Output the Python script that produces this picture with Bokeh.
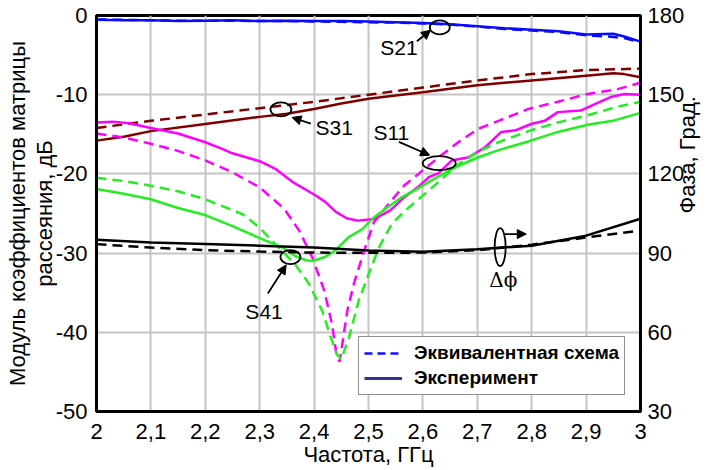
import math
from bokeh.plotting import figure
from bokeh.models import (Range1d, LinearAxis, Label, Arrow, NormalHead, Legend,
                          LegendItem, FixedTicker, CustomJSTickFormatter)
from bokeh.embed import file_html
from bokeh.resources import INLINE

# ---------------- data ----------------
x_ticks = [2.0, 2.1, 2.2, 2.3, 2.4, 2.5, 2.6, 2.7, 2.8, 2.9, 3.0]
db_ticks = [-50, -40, -30, -20, -10, 0]
phase_ticks = [30, 60, 90, 120, 150, 180]

# S21 (blue)
s21_f = [2.0, 2.05, 2.1, 2.15, 2.2, 2.25, 2.3, 2.35, 2.4, 2.45, 2.5, 2.55, 2.6, 2.65,
         2.7, 2.75, 2.8, 2.85, 2.9, 2.95, 2.97, 3.0]
s21_exp = [-0.55, -0.6, -0.6, -0.7, -0.65, -0.6, -0.7, -0.65, -0.7, -0.7, -0.75, -0.85,
           -0.95, -1.1, -1.35, -1.6, -1.8, -2.0, -2.4, -2.3, -2.65, -3.3]
s21_mod = [-0.5, -0.55, -0.6, -0.65, -0.65, -0.65, -0.7, -0.7, -0.75, -0.8, -0.85, -0.9,
           -1.0, -1.15, -1.4, -1.7, -1.9, -2.1, -2.5, -2.7, -2.85, -3.4]

# S31 (brown)
s31_exp_f = [2.0, 2.05, 2.1, 2.2, 2.3, 2.35, 2.4, 2.45, 2.5, 2.6, 2.7, 2.8, 2.9, 2.95, 2.97, 3.0]
s31_exp = [-15.8, -15.3, -14.6, -13.7, -12.8, -12.4, -11.8, -11.1, -10.5, -9.7, -8.8, -8.2,
           -7.6, -7.3, -7.4, -7.8]
s31_mod_f = [2.0, 2.1, 2.2, 2.3, 2.4, 2.5, 2.6, 2.7, 2.8, 2.9, 3.0]
s31_mod = [-14.2, -13.3, -12.5, -11.7, -10.9, -10.0, -9.1, -8.2, -7.4, -6.9, -6.7]

# S11 (magenta)
s11_exp_f = [2.0, 2.03, 2.06, 2.1, 2.15, 2.2, 2.23, 2.25, 2.3, 2.33, 2.36, 2.4, 2.42, 2.44,
             2.46, 2.48, 2.51, 2.54, 2.565, 2.592, 2.611, 2.629, 2.653, 2.684, 2.715, 2.744,
             2.77, 2.799, 2.824, 2.848, 2.89, 2.909, 2.945, 2.971, 3.0]
s11_exp = [-13.5, -13.4, -13.6, -14.2, -14.9, -16.0, -16.8, -17.4, -18.4, -19.4, -21.0, -22.6,
           -23.5, -24.8, -25.6, -25.9, -25.7, -24.6, -23.0, -21.6, -20.4, -19.9, -18.3, -17.9,
           -16.6, -14.7, -14.5, -13.7, -13.3, -12.2, -12.0, -11.4, -10.3, -9.9, -10.0]
s11_mod_f = [2.0, 2.05, 2.1, 2.15, 2.2, 2.25, 2.3, 2.345, 2.373, 2.397, 2.419, 2.433, 2.442,
             2.447, 2.461, 2.473, 2.492, 2.51, 2.537, 2.565, 2.592, 2.629, 2.665, 2.702,
             2.739, 2.794, 2.848, 2.903, 2.958, 3.0]
s11_mod = [-14.9, -15.4, -16.2, -17.1, -18.3, -19.8, -21.7, -24.4, -27.2, -30.6, -34.8, -39.0,
           -43.2, -43.7, -37.3, -33.9, -29.7, -26.1, -23.8, -21.5, -20.0, -17.9, -16.0, -14.3,
           -13.3, -11.8, -10.9, -9.9, -9.3, -8.5]

# S41 (green)
s41_exp_f = [2.0, 2.05, 2.1, 2.15, 2.2, 2.25, 2.3, 2.342, 2.366, 2.385, 2.397, 2.42, 2.44,
             2.463, 2.488, 2.51, 2.535, 2.56, 2.592, 2.629, 2.665, 2.702, 2.739, 2.794,
             2.848, 2.903, 2.949, 3.0]
s41_exp = [-21.9, -22.5, -23.2, -24.3, -25.2, -26.6, -28.1, -29.3, -30.4, -30.9, -31.0, -30.5,
           -29.6, -28.0, -27.0, -25.5, -24.2, -23.0, -21.8, -20.3, -19.0, -17.9, -17.0, -15.9,
           -14.7, -13.8, -13.3, -12.3]
s41_mod_f = [2.0, 2.05, 2.1, 2.15, 2.2, 2.269, 2.3, 2.335, 2.366, 2.39, 2.397, 2.415, 2.431,
             2.442, 2.45, 2.464, 2.482, 2.5, 2.519, 2.543, 2.568, 2.592, 2.629, 2.665, 2.702,
             2.739, 2.794, 2.848, 2.903, 2.958, 3.0]
s41_mod = [-20.5, -20.9, -21.5, -22.2, -23.2, -25.1, -26.8, -29.3, -31.5, -33.8, -34.8, -37.3,
           -40.7, -42.8, -43.4, -40.7, -36.0, -32.7, -29.3, -26.3, -24.6, -23.2, -21.0, -18.8,
           -17.2, -16.0, -14.6, -13.5, -12.6, -11.5, -10.9]

# Phase difference (black, right axis, degrees)
dphi_f = [2.0, 2.1, 2.2, 2.3, 2.4, 2.5, 2.6, 2.7, 2.8, 2.9, 3.0]
dphi_exp = [95.1, 94.0, 93.4, 92.8, 92.1, 91.0, 90.5, 91.5, 92.8, 96.6, 103.0]
dphi_mod = [93.4, 92.1, 91.1, 90.6, 90.2, 90.1, 90.2, 91.1, 93.2, 95.9, 98.5]

# annotation positions (GHz, dB)
ann_text = [("S21", 2.556, -4.0), ("S31", 2.437, -14.2), ("S11", 2.542, -14.8),
            ("S41", 2.308, -37.4)]
ann_ellipse = [(2.631, -1.5, 20, 14), (2.339, -11.85, 21, 14), (2.630, -18.65, 33, 14),
               (2.3565, -30.5, 20, 14), (2.742, -29.24, 11, 38)]
ann_arrows = [(2.589, -3.25, 2.614, -1.86), (2.394, -13.64, 2.3595, -12.88),
              (2.5558, -15.96, 2.6124, -17.64), (2.315, -35.1, 2.3486, -31.5),
              (2.751, -27.6, 2.790, -27.6)]

# axis titles
title_x = "Частота, ГГц"
title_left = "Модуль коэффициентов матрицы\nрассеяния, дБ"
title_right = "Фаза, Град."

# ---------------- figure ----------------
FONT = "Liberation Sans"
BLUE = "#0a0aff"
BROWN = "#800000"
MAG = "#ff00ff"
GREEN = "#22ee22"
DASH = "10 6"
LW = 2.5

p = figure(width=715, height=470, x_range=Range1d(2, 3), y_range=Range1d(-50, 0),
           output_backend="svg", toolbar_location=None,
           min_border_left=96, min_border_right=72, min_border_top=15, min_border_bottom=59)
p.extra_y_ranges = {"phase": Range1d(30, 180)}
p.background_fill_color = "white"
p.border_fill_color = "white"
p.outline_line_color = "black"
p.outline_line_width = 3

fmt_x = CustomJSTickFormatter(code="var s = (Math.round(tick*10)/10).toString(); return s.replace('.', ',');")
fmt_i = CustomJSTickFormatter(code="return Math.round(tick).toString();")

p.xaxis.ticker = FixedTicker(ticks=x_ticks)
p.xaxis.formatter = fmt_x
p.yaxis.ticker = FixedTicker(ticks=db_ticks)
p.yaxis.formatter = fmt_i

right = LinearAxis(y_range_name="phase", ticker=FixedTicker(ticks=phase_ticks), formatter=fmt_i)
p.add_layout(right, "right")

p.xaxis.axis_label = title_x
p.yaxis.axis_label = title_left
right.axis_label = title_right

for ax in [p.xaxis[0], p.yaxis[0], right]:
    ax.axis_line_width = 3
    ax.axis_line_color = "black"
    ax.major_tick_line_color = None
    ax.minor_tick_line_color = None
    ax.major_label_text_font = FONT
    ax.major_label_text_font_size = "22px"
    ax.major_label_text_color = "black"
    ax.axis_label_text_font = FONT
    ax.axis_label_text_font_size = "22px"
    ax.axis_label_text_font_style = "normal"
    ax.axis_label_text_color = "black"
p.xaxis.major_label_standoff = 6
p.xaxis.axis_label_standoff = 0
p.yaxis.major_label_standoff = 3
p.yaxis.axis_label_standoff = -4
p.yaxis.axis_label_text_line_height = 1.05
right.major_label_standoff = 1
right.axis_label_standoff = 0
right.axis_label_text_line_height = 0.45
right.axis_label_orientation = math.pi / 2

p.xgrid.ticker = FixedTicker(ticks=x_ticks)
p.ygrid.ticker = FixedTicker(ticks=db_ticks)
for g in [p.xgrid[0], p.ygrid[0]]:
    g.grid_line_color = "#c4c4c4"
    g.grid_line_width = 2

# curves
p.line(s21_f, s21_mod, line_color=BLUE, line_width=LW, line_dash=DASH)
p.line(s21_f, s21_exp, line_color=BLUE, line_width=LW)
p.line(s31_mod_f, s31_mod, line_color=BROWN, line_width=LW, line_dash=DASH)
p.line(s31_exp_f, s31_exp, line_color=BROWN, line_width=LW)
p.line(s11_mod_f, s11_mod, line_color=MAG, line_width=LW, line_dash=DASH)
p.line(s11_exp_f, s11_exp, line_color=MAG, line_width=LW)
p.line(s41_mod_f, s41_mod, line_color=GREEN, line_width=LW, line_dash=DASH)
p.line(s41_exp_f, s41_exp, line_color=GREEN, line_width=LW)
p.line(dphi_f, dphi_mod, line_color="black", line_width=LW, line_dash=DASH, y_range_name="phase")
p.line(dphi_f, dphi_exp, line_color="black", line_width=LW, y_range_name="phase")

# annotations
for (ex, ey, w, h) in ann_ellipse:
    p.ellipse(x=[ex], y=[ey], width=w, height=h, width_units="screen", height_units="screen",
              fill_color=None, line_color="black", line_width=1.8)
for (xs, ys, xe, ye) in ann_arrows:
    p.add_layout(Arrow(x_start=xs, y_start=ys, x_end=xe, y_end=ye, line_width=1.8,
                       line_color="black",
                       end=NormalHead(size=9, fill_color="black", line_color="black")))
for (t, tx, ty) in ann_text:
    p.add_layout(Label(x=tx, y=ty, text=t, text_align="center", text_baseline="middle",
                       text_font=FONT, text_font_size="21px", text_color="black"))
p.add_layout(Label(x=2.748, y=-33.4, text="Δϕ", text_align="center", text_baseline="middle",
                   text_font="DejaVu Serif", text_font_size="20px", text_color="black"))

# legend
r_mod = p.line([math.nan], [math.nan], line_color="#1010ff", line_width=2.5, line_dash="8 5")
r_exp = p.line([math.nan], [math.nan], line_color="#333399", line_width=3)
legend = Legend(items=[LegendItem(label="Эквивалентная схема", renderers=[r_mod]),
                       LegendItem(label="Эксперимент", renderers=[r_exp])],
                location=(262, 16), orientation="vertical")
legend.label_text_font = FONT
legend.label_text_font_size = "19px"
legend.label_text_font_style = "bold"
legend.label_text_color = "black"
legend.border_line_color = "#222222"
legend.border_line_width = 1.5
legend.background_fill_color = "white"
legend.background_fill_alpha = 1.0
legend.glyph_width = 38
legend.glyph_height = 20
legend.label_height = 20
legend.spacing = 3
legend.padding = 5
legend.margin = 0
legend.label_standoff = 12
p.add_layout(legend, "center")

open("out.html", "w").write(file_html(p, INLINE))
